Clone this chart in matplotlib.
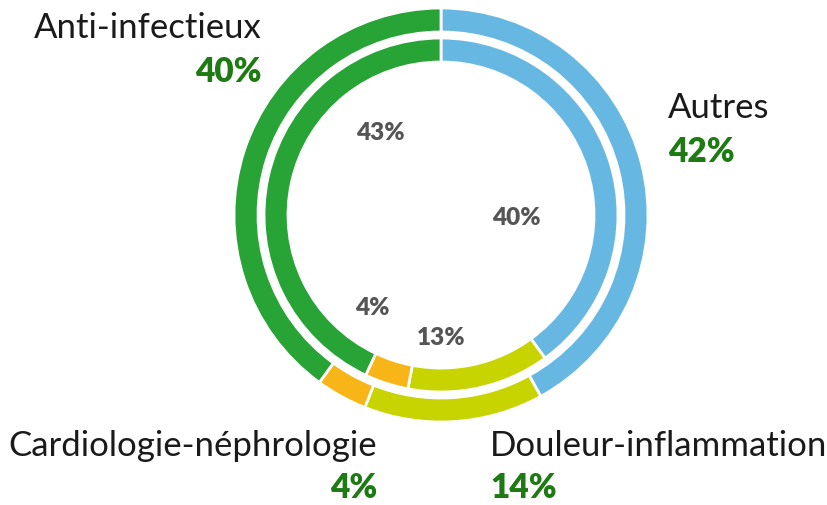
import matplotlib.pyplot as plt

categories = ["Autres", "Douleur-inflammation", "Cardiologie-néphrologie", "Anti-infectieux"]
outer_values = [42, 14, 4, 40]
inner_values = [40, 13, 4, 43]
colors = ["#67B7E3", "#C8D400", "#F8B517", "#28A437"]

plt.rcParams['font.family'] = ['Lato', 'DejaVu Sans']

fig = plt.figure(figsize=(8.28, 5.06), dpi=100)
ax = fig.add_axes([0, 0, 1, 1])

cx, cy = 441, 506 - 216
R = 207

# outer ring
ax.pie(outer_values, colors=colors, radius=R, center=(cx, cy), startangle=90,
       counterclock=False, frame=True,
       wedgeprops=dict(width=24, edgecolor='white', linewidth=2))
# inner ring
ax.pie(inner_values, colors=colors, radius=R - 30, center=(cx, cy), startangle=90,
       counterclock=False, frame=True,
       wedgeprops=dict(width=24, edgecolor='white', linewidth=2))
ax.set_xlim(0, 828)
ax.set_ylim(0, 506)
ax.set_aspect('equal')
ax.axis('off')

lbl = dict(fontsize=25, color='#1a1a1a')
pct = dict(fontsize=24, color='#1E7A12', fontweight='heavy')

# outer labels
ax.text(262, 506 - 28, categories[3], ha='right', va='center', **lbl)
ax.text(262, 506 - 72, f"{outer_values[3]}%", ha='right', va='center', **pct)
ax.text(668, 506 - 108, categories[0], ha='left', va='center', **lbl)
ax.text(668, 506 - 152, f"{outer_values[0]}%", ha='left', va='center', **pct)
ax.text(377, 506 - 446, categories[2], ha='right', va='center', **lbl)
ax.text(377, 506 - 488, f"{outer_values[2]}%", ha='right', va='center', **pct)
ax.text(490, 506 - 446, categories[1], ha='left', va='center', **lbl)
ax.text(490, 506 - 488, f"{outer_values[1]}%", ha='left', va='center', **pct)

# inner labels
inner = dict(fontsize=17.5, color='#555555', fontweight='heavy', ha='center', va='center')
ax.text(380, 506 - 133, f"{inner_values[3]}%", **inner)
ax.text(516, 506 - 218, f"{inner_values[0]}%", **inner)
ax.text(372, 506 - 308, f"{inner_values[2]}%", **inner)
ax.text(441, 506 - 338, f"{inner_values[1]}%", **inner)

fig.savefig("out.png", dpi=100)
